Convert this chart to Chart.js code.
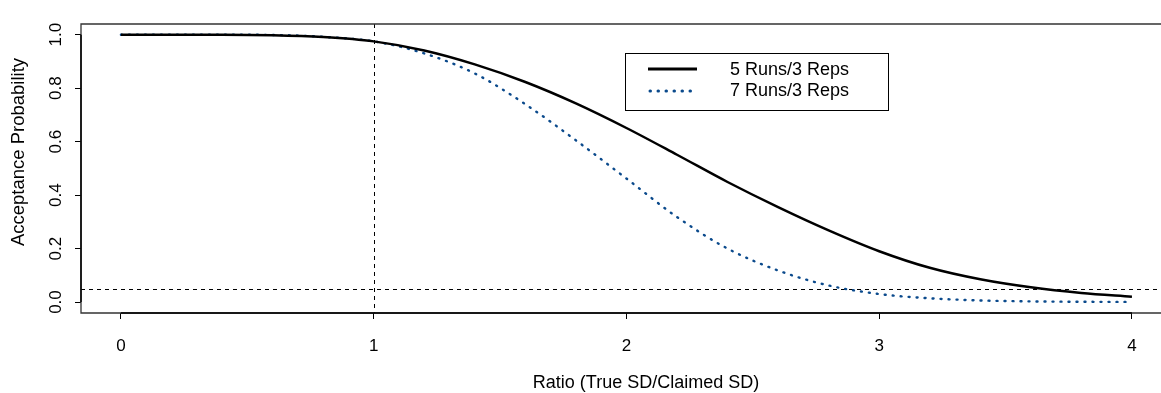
<!DOCTYPE html>
<html>
<head>
<meta charset="utf-8">
<script src="https://cdn.jsdelivr.net/npm/chart.js@4.4.1/dist/chart.umd.min.js"></script>
<style>
  html, body { margin: 0; padding: 0; background: #fff; overflow: hidden; }
  canvas { display: block; }
</style>
</head>
<body>
<canvas id="oc-chart" width="1161" height="393"></canvas>
<script>
// operating characteristic curves
const ratio = [0, 0.2, 0.4, 0.6, 0.8, 1.0, 1.2, 1.4, 1.6, 1.8, 2.0, 2.2, 2.4, 2.6, 2.8, 3.0, 3.2, 3.4, 3.6, 3.8, 4.0];
const runs5reps3 = [1.000, 1.000, 1.000, 0.998, 0.991, 0.975, 0.941, 0.889, 0.823, 0.743, 0.651, 0.551, 0.449, 0.355, 0.268, 0.190, 0.128, 0.085, 0.055, 0.034, 0.020];
const runs7reps3 = [1.000, 1.000, 1.000, 0.999, 0.992, 0.975, 0.930, 0.855, 0.740, 0.605, 0.462, 0.318, 0.200, 0.118, 0.062, 0.030, 0.014, 0.006, 0.0025, 0.001, 0.0004];
const seriesNames = ['5 Runs/3 Reps', '7 Runs/3 Reps'];

const xTicks = [0, 1, 2, 3, 4];
const yTicks = [0, 0.2, 0.4, 0.6, 0.8, 1.0];
const refRatio = 1;
const refProb = 0.05;

const FONT = '"Liberation Sans", Arial, sans-serif';
const BLUE = '#0b4a8c';

function toPoints(values) {
  return ratio.map((x, i) => ({ x: x, y: values[i] }));
}

// R-style frame, reference lines, rotated y labels, titles and legend
const rFrame = {
  id: 'rFrame',
  beforeDatasetsDraw(chart) {
    const { ctx, chartArea: a, scales: { x, y } } = chart;
    ctx.save();
    ctx.strokeStyle = '#000';
    ctx.lineWidth = 1;
    ctx.setLineDash([4, 4]);
    const hx = Math.round(x.getPixelForValue(refRatio)) + 0.5;
    const hy = Math.round(y.getPixelForValue(refProb)) + 0.5;
    ctx.beginPath();
    ctx.moveTo(hx, a.top); ctx.lineTo(hx, a.bottom);
    ctx.moveTo(a.left, hy); ctx.lineTo(a.right, hy);
    ctx.stroke();
    ctx.restore();
  },
  afterDraw(chart) {
    const { ctx, chartArea: a, scales: { x, y } } = chart;
    ctx.save();

    // box
    ctx.strokeStyle = '#333';
    ctx.lineWidth = 1.3;
    ctx.beginPath();
    ctx.moveTo(a.right + 2, a.top);
    ctx.lineTo(a.left, a.top);
    ctx.lineTo(a.left, a.bottom);
    ctx.lineTo(a.right + 2, a.bottom);
    ctx.stroke();

    // axis lines
    ctx.strokeStyle = '#000';
    ctx.lineWidth = 1.5;
    ctx.beginPath();
    ctx.moveTo(x.getPixelForValue(xTicks[0]), a.bottom);
    ctx.lineTo(x.getPixelForValue(xTicks[xTicks.length - 1]), a.bottom);
    ctx.moveTo(a.left, y.getPixelForValue(yTicks[0]));
    ctx.lineTo(a.left, y.getPixelForValue(yTicks[yTicks.length - 1]));
    ctx.stroke();

    // y tick labels, parallel to axis
    ctx.fillStyle = '#000';
    ctx.font = '17px ' + FONT;
    ctx.textAlign = 'center';
    ctx.textBaseline = 'middle';
    y.ticks.forEach(t => {
      ctx.save();
      ctx.translate(56, y.getPixelForValue(t.value));
      ctx.rotate(-Math.PI / 2);
      ctx.fillText(t.value.toFixed(1), 0, 0);
      ctx.restore();
    });

    // axis titles
    ctx.font = '18.5px ' + FONT;
    ctx.save();
    ctx.translate(19, 152);
    ctx.rotate(-Math.PI / 2);
    ctx.fillText('Acceptance Probability', 0, 0);
    ctx.restore();
    ctx.font = '18px ' + FONT;
    ctx.fillText('Ratio (True SD/Claimed SD)', 646, 383);

    // legend
    ctx.fillStyle = '#fff';
    ctx.fillRect(625, 53, 263, 57);
    ctx.strokeStyle = '#000';
    ctx.lineWidth = 1;
    ctx.strokeRect(625.5, 53.5, 263, 57);

    ctx.lineWidth = 3;
    ctx.beginPath();
    ctx.moveTo(648, 69); ctx.lineTo(697, 69);
    ctx.stroke();

    ctx.strokeStyle = BLUE;
    ctx.lineWidth = 3;
    ctx.lineCap = 'round';
    ctx.setLineDash([0.5, 7.5]);
    ctx.beginPath();
    ctx.moveTo(650, 91); ctx.lineTo(697, 91);
    ctx.stroke();

    ctx.fillStyle = '#000';
    ctx.font = '18px ' + FONT;
    ctx.textAlign = 'left';
    ctx.fillText(seriesNames[0], 730, 70);
    ctx.fillText(seriesNames[1], 730, 91);
    ctx.restore();
  }
};

new Chart(document.getElementById('oc-chart'), {
  type: 'line',
  data: {
    datasets: [
      {
        label: seriesNames[0],
        data: toPoints(runs5reps3),
        borderColor: '#000',
        borderWidth: 2.5,
        pointRadius: 0,
        cubicInterpolationMode: 'monotone',
        fill: false
      },
      {
        label: seriesNames[1],
        data: toPoints(runs7reps3),
        borderColor: BLUE,
        borderWidth: 2.4,
        borderDash: [1, 7],
        borderCapStyle: 'round',
        pointRadius: 0,
        cubicInterpolationMode: 'monotone',
        fill: false
      }
    ]
  },
  options: {
    responsive: false,
    animation: false,
    devicePixelRatio: 1,
    layout: { padding: { top: 24, right: 0, left: 0, bottom: 0 } },
    plugins: {
      legend: { display: false },
      tooltip: { enabled: false }
    },
    scales: {
      x: {
        type: 'linear',
        min: -0.158,
        max: 4.115,
        afterBuildTicks: scale => { scale.ticks = xTicks.map(v => ({ value: v })); },
        afterFit: scale => { scale.height = 80; },
        ticks: {
          autoSkip: false,
          maxRotation: 0,
          color: '#000',
          padding: 17,
          font: { family: FONT, size: 17 },
          callback: v => String(v)
        },
        grid: { drawOnChartArea: false, drawTicks: true, tickLength: 6, color: '#000', lineWidth: 1 },
        border: { display: false }
      },
      y: {
        min: -0.041,
        max: 1.04,
        afterBuildTicks: scale => { scale.ticks = yTicks.map(v => ({ value: v })); },
        afterFit: scale => { scale.width = 81; },
        ticks: { display: false },
        grid: { drawOnChartArea: false, drawTicks: true, tickLength: 6, color: '#000', lineWidth: 1 },
        border: { display: false }
      }
    }
  },
  plugins: [rFrame]
});
</script>
</body>
</html>
